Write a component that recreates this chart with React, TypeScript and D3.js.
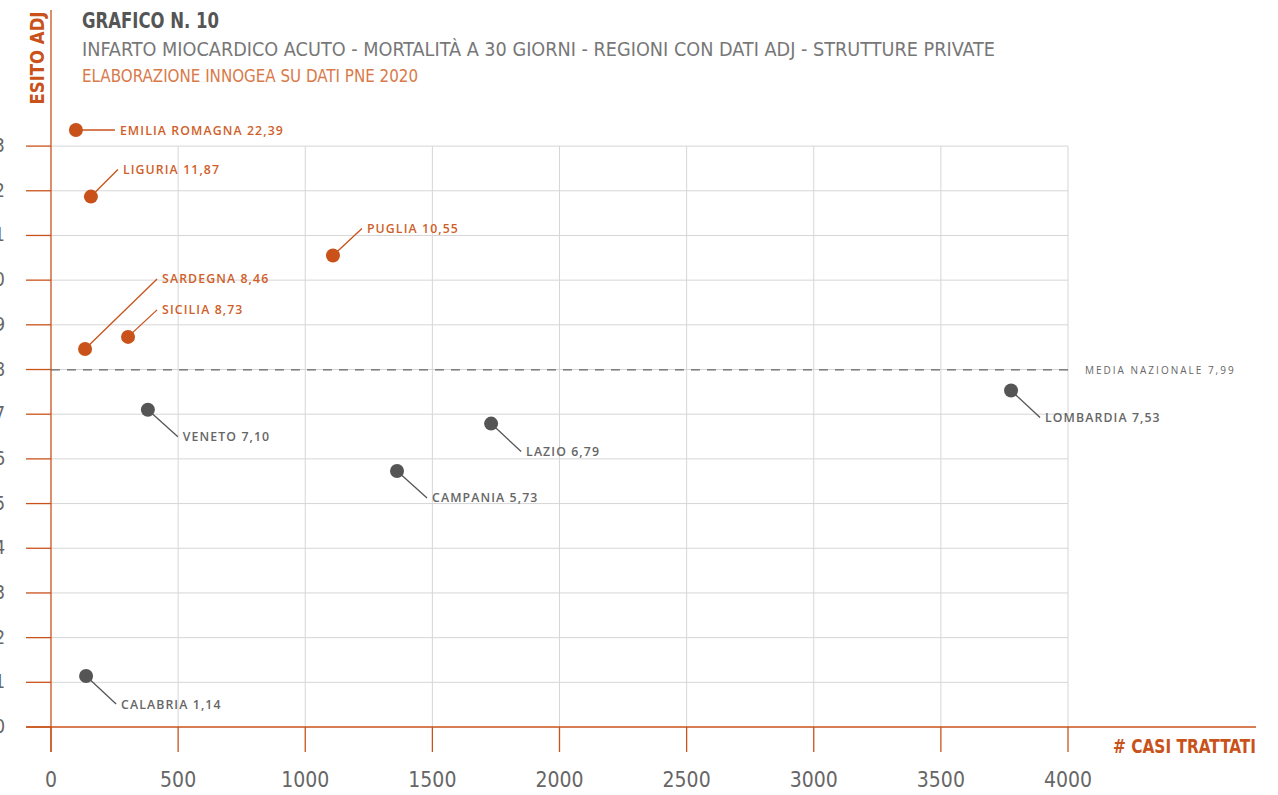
import React from "react";
import * as d3 from "d3";

const regions = ["EMILIA ROMAGNA", "LIGURIA", "PUGLIA", "SARDEGNA", "SICILIA", "VENETO", "LAZIO", "CAMPANIA", "LOMBARDIA", "CALABRIA"];
const casiTrattati = [98, 157, 1109, 134, 303, 381, 1731, 1361, 3776, 138];
const esitoAdj = [22.39, 11.87, 10.55, 8.46, 8.73, 7.10, 6.79, 5.73, 7.53, 1.14];
const mediaNazionale = 7.99;
const xTicks = [0, 500, 1000, 1500, 2000, 2500, 3000, 3500, 4000];
const yTicks = [0, 1, 2, 3, 4, 5, 6, 7, 8, 9, 10, 11, 12, 13];
// label leader offsets (dx, dy) in pixels
const labelOffsets: [number, number][] = [
  [39, 0], [27, -27], [29, -27], [72, -70], [29, -27],
  [30, 27], [30, 28], [30, 27], [29, 27], [30, 28],
];

const ORANGE = "#c9521a";
const GRAY = "#555555";
const FONT = "'Liberation Sans Narrow', 'DejaVu Sans Condensed', 'Open Sans', sans-serif";
const LFONT = "'Open Sans', 'Noto Sans', sans-serif";

export default function App() {
  const W = 1278, H = 795;
  const x = d3.scaleLinear().domain([0, 4000]).range([51, 1068]);
  const y = d3.scaleLinear().domain([0, 13.36]).range([727, 130]).clamp(true);
  const fmt = (v: number) => v.toFixed(2).replace(".", ",");

  return (
    <svg width={W} height={H} style={{ position: "absolute", left: 0, top: 0, background: "#fff" }}>
      {/* grid */}
      {yTicks.filter((t) => t > 0).map((t) => (
        <line key={"gy" + t} x1={51} x2={1068} y1={y(t)} y2={y(t)} stroke="#d6d6d6" strokeWidth={1} />
      ))}
      {xTicks.filter((t) => t > 0).map((t) => (
        <line key={"gx" + t} x1={x(t)} x2={x(t)} y1={y(13)} y2={727} stroke="#d6d6d6" strokeWidth={1} />
      ))}
      {/* y ticks */}
      {yTicks.map((t) => (
        <g key={"yt" + t}>
          <line x1={26} x2={51} y1={y(t)} y2={y(t)} stroke={ORANGE} strokeWidth={1.3} />
          <text x={5} y={y(t) + 6} textAnchor="end" fontFamily={FONT} fontSize={19} fill="#666">{t}</text>
        </g>
      ))}
      {/* x ticks */}
      {xTicks.map((t) => (
        <g key={"xt" + t}>
          <line x1={x(t)} x2={x(t)} y1={727} y2={752} stroke={ORANGE} strokeWidth={1.3} />
          <text x={x(t)} y={787} textAnchor="middle" fontFamily={FONT} fontSize={21} fill="#666">{t}</text>
        </g>
      ))}
      {/* axes */}
      <line x1={51} x2={51} y1={10} y2={752} stroke={ORANGE} strokeWidth={1.3} />
      <line x1={26} x2={1256} y1={727} y2={727} stroke={ORANGE} strokeWidth={1.3} />
      {/* media nazionale */}
      <line x1={51} x2={1068} y1={y(mediaNazionale)} y2={y(mediaNazionale)} stroke="#666" strokeWidth={1.2} strokeDasharray="9,7" />
      <text x={1085} y={y(mediaNazionale) + 4} fontFamily={LFONT} fontSize={10} letterSpacing={2} fill="#666">
        {"MEDIA NAZIONALE " + fmt(mediaNazionale)}
      </text>
      {/* points */}
      {regions.map((r, i) => {
        const cx = x(casiTrattati[i]);
        const cy = y(esitoAdj[i]);
        const above = esitoAdj[i] > mediaNazionale;
        const col = above ? ORANGE : GRAY;
        const [dx, dy] = labelOffsets[i];
        return (
          <g key={r}>
            <line x1={cx} y1={cy} x2={cx + dx} y2={cy + dy} stroke={col} strokeWidth={1.3} />
            <circle cx={cx} cy={cy} r={7} fill={col} />
            <text x={cx + dx + 5} y={cy + dy + 4.5} fontFamily={LFONT} fontSize={12.3} fontWeight={600} letterSpacing={1.1} fill={above ? "#cf5f2a" : "#666"}>
              {r + " " + fmt(esitoAdj[i])}
            </text>
          </g>
        );
      })}
      {/* axis titles */}
      <text transform="translate(44,58) rotate(-90)" textAnchor="middle" fontFamily={FONT} fontSize={19} fontWeight={700} fill={ORANGE} textLength={93} lengthAdjust="spacingAndGlyphs">ESITO ADJ</text>
      <text x={1256} y={753} textAnchor="end" fontFamily={FONT} fontSize={19} fontWeight={700} fill={ORANGE} textLength={143} lengthAdjust="spacingAndGlyphs"># CASI TRATTATI</text>
      {/* titles */}
      <text x={82} y={28} fontFamily={FONT} fontSize={21} fontWeight={700} fill="#555" textLength={137} lengthAdjust="spacingAndGlyphs">GRAFICO N. 10</text>
      <text x={82} y={56} fontFamily={FONT} fontSize={20} fill="#777" textLength={913} lengthAdjust="spacingAndGlyphs">INFARTO MIOCARDICO ACUTO - MORTALITÀ A 30 GIORNI - REGIONI CON DATI ADJ - STRUTTURE PRIVATE</text>
      <text x={82} y={82} fontFamily={FONT} fontSize={18} fill="#d97a4a" textLength={336} lengthAdjust="spacingAndGlyphs">ELABORAZIONE INNOGEA SU DATI PNE 2020</text>
    </svg>
  );
}
